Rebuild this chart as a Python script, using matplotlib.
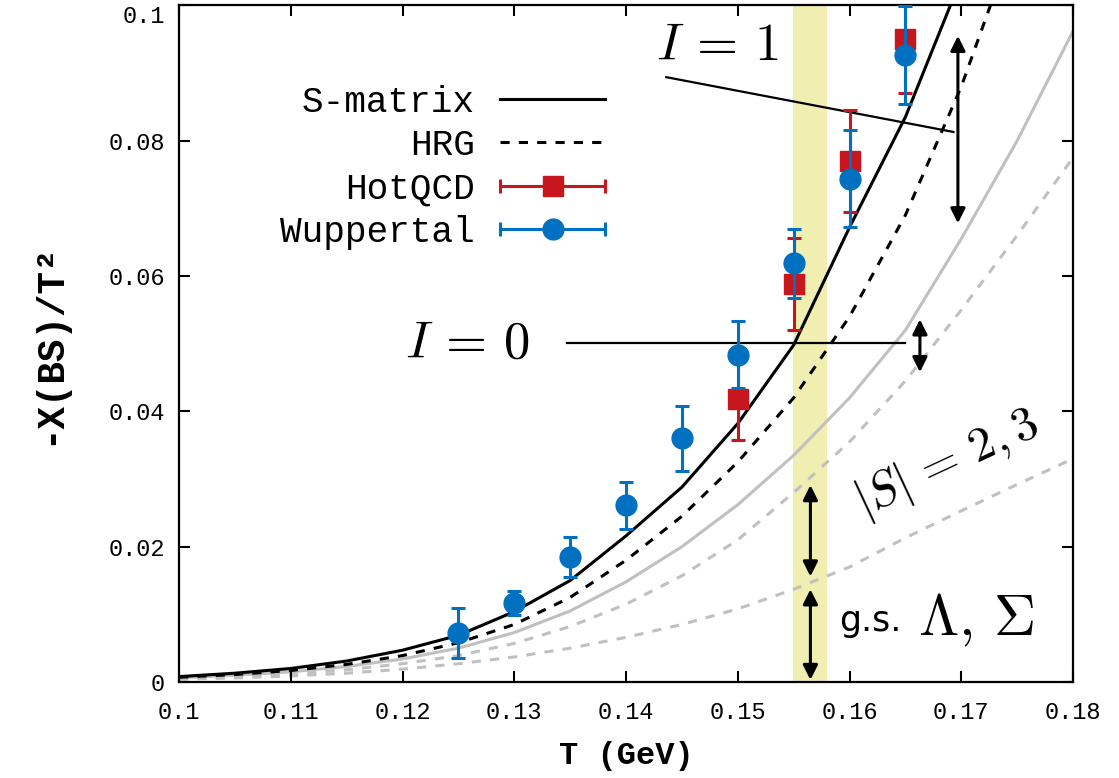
import numpy as np
import matplotlib.pyplot as plt
from matplotlib.lines import Line2D
from matplotlib.legend_handler import HandlerErrorbar

plt.rcParams['mathtext.fontset'] = 'cm'

# --- data ---
T_grid = [0.100, 0.105, 0.110, 0.115, 0.120, 0.125, 0.130, 0.135, 0.140,
          0.145, 0.150, 0.155, 0.160, 0.165, 0.170, 0.175, 0.180]
smatrix = [0.0008, 0.0013, 0.0020, 0.0031, 0.0047, 0.0069, 0.0104, 0.0150, 0.0216,
           0.0288, 0.0382, 0.0498, 0.0672, 0.0835, 0.1040, 0.1300, 0.1600]
hrg = [0.0007, 0.0011, 0.0017, 0.0026, 0.0039, 0.0058, 0.0085, 0.0125, 0.0180,
       0.0245, 0.0325, 0.0420, 0.0540, 0.0690, 0.0880, 0.1110, 0.1400]
grey_solid = [0.0006, 0.0010, 0.0015, 0.0023, 0.0034, 0.0050, 0.0073, 0.0105, 0.0148,
              0.0200, 0.0262, 0.0335, 0.0420, 0.0520, 0.0655, 0.0800, 0.0962]
grey_dash_hi = [0.0005, 0.0008, 0.0012, 0.0018, 0.0027, 0.0039, 0.0057, 0.0082, 0.0115,
                0.0157, 0.0210, 0.0280, 0.0355, 0.0445, 0.0550, 0.0660, 0.0775]
grey_dash_lo = [0.0004, 0.0006, 0.0009, 0.0013, 0.0019, 0.0027, 0.0037, 0.0050, 0.0066,
                0.0085, 0.0108, 0.0137, 0.0170, 0.0213, 0.0253, 0.0292, 0.0330]

T_wup = [0.125, 0.130, 0.135, 0.140, 0.145, 0.150, 0.155, 0.160, 0.165]
wup = [0.0072, 0.0117, 0.0185, 0.0261, 0.0360, 0.0484, 0.0619, 0.0744, 0.0927]
wup_err = [0.0037, 0.0018, 0.0030, 0.0035, 0.0048, 0.0049, 0.0051, 0.0072, 0.0072]

T_hot = [0.150, 0.155, 0.160, 0.165]
hot = [0.0418, 0.0588, 0.0770, 0.0950]
hot_err = [0.0060, 0.0068, 0.0075, 0.0080]

band = (0.1549, 0.1580)

xticks = [0.10, 0.11, 0.12, 0.13, 0.14, 0.15, 0.16, 0.17, 0.18]
xlabels = ['0.1', '0.11', '0.12', '0.13', '0.14', '0.15', '0.16', '0.17', '0.18']
yticks = [0, 0.02, 0.04, 0.06, 0.08, 0.1]
ylabels = ['0', '0.02', '0.04', '0.06', '0.08', '0.1']

red = '#C8161E'
blue = '#0070C0'
grey = '#C0C0C0'
mono = 'Liberation Mono'

fig = plt.figure(figsize=(11.19, 7.78), dpi=100)
ax = fig.add_axes([0.16, 0.1234, 0.7989, 0.8696])

ax.axvspan(band[0], band[1], color='#F0EEB0', lw=0, zorder=0)

ax.plot(T_grid, grey_dash_lo, color=grey, lw=2.2, dashes=(3, 3), zorder=1)
ax.plot(T_grid, grey_dash_hi, color=grey, lw=2.2, dashes=(3, 3), zorder=1)
ax.plot(T_grid, grey_solid, color=grey, lw=2.2, zorder=1)
ax.plot(T_grid, hrg, color='k', lw=2.2, dashes=(3, 3), zorder=2)
ax.plot(T_grid, smatrix, color='k', lw=2.2, zorder=2)

ax.errorbar(T_hot, hot, yerr=hot_err, fmt='s', color=red, ms=14, elinewidth=2.2,
            capsize=5, capthick=2.2, zorder=3)
ax.errorbar(T_wup, wup, yerr=wup_err, fmt='o', color=blue, ms=15, elinewidth=2.2,
            capsize=5, capthick=2.2, zorder=4)

# annotation lines and arrows
ax.plot([0.1436, 0.1693], [0.0894, 0.0813], color='k', lw=1.6, zorder=2)
ax.plot([0.1347, 0.1650], [0.0501, 0.0501], color='k', lw=1.6, zorder=2)

def darrow(x, y0, y1):
    ax.annotate('', xy=(x, y0), xytext=(x, y1),
                arrowprops=dict(arrowstyle='<|-|>', color='k', lw=2.2,
                                mutation_scale=22, shrinkA=0, shrinkB=0), zorder=5)

darrow(0.1697, 0.0955, 0.0678)
darrow(0.1663, 0.0536, 0.0458)
darrow(0.1565, 0.0291, 0.0156)
darrow(0.1565, 0.0137, 0.0003)

ax.text(0.14815, 0.0942, r'$I\,=\,1$', fontsize=38, ha='center', va='center')
ax.text(0.12577, 0.0501, r'$I\,=\,0$', fontsize=38, ha='center', va='center')
ax.text(0.1687, 0.0323, r'$|S|\,=\,2,3$', fontsize=35, ha='center', va='center',
        rotation=25, rotation_mode='anchor')
ax.text(0.1591, 0.0090, 'g.s.', fontfamily='DejaVu Sans', fontsize=25,
        ha='left', va='center')
ax.text(0.1661, 0.0093, r'$\Lambda,\,\Sigma$', fontsize=42, ha='left', va='center')

ax.set_xlim(0.1, 0.18)
ax.set_ylim(0, 0.1)
ax.set_xticks(xticks)
ax.set_xticklabels(xlabels, fontfamily=mono, fontsize=17)
ax.set_yticks(yticks)
ax.set_yticklabels(ylabels, fontfamily=mono, fontsize=17)
ax.get_yticklabels()[-1].set_va('top')
ax.tick_params(direction='in', top=True, right=True, length=8, width=1.5)
ax.tick_params(axis='x', pad=14)
ax.tick_params(axis='y', pad=10)
for s in ax.spines.values():
    s.set_linewidth(1.6)

ax.set_xlabel('T (GeV)', fontfamily=mono, fontweight='bold', fontsize=23, labelpad=12)
ax.set_ylabel('-X(BS)/T²', fontfamily=mono, fontweight='bold',
              fontsize=27, labelpad=30)

# legend
h_s = Line2D([], [], color='k', lw=2.2)
h_h = Line2D([], [], color='k', lw=2.2, dashes=(3, 3))
h_q = ax.errorbar([np.nan], [np.nan], xerr=[1.0], fmt='s', color=red, ms=14,
                  elinewidth=2.2, capsize=5, capthick=2.2)
h_w = ax.errorbar([np.nan], [np.nan], xerr=[1.0], fmt='o', color=blue, ms=15,
                  elinewidth=2.2, capsize=5, capthick=2.2)
eb = HandlerErrorbar(xerr_size=1.45)
ax.legend([h_s, h_h, h_q, h_w], ['S-matrix', 'HRG', 'HotQCD', 'Wuppertal'],
          handler_map={h_q: eb, h_w: eb},
          loc='upper right', bbox_to_anchor=(0.4765, 0.883), frameon=False,
          markerfirst=False, prop={'family': mono, 'size': 26},
          handlelength=2.9, handletextpad=0.7, labelspacing=0.23,
          borderpad=0, borderaxespad=0, numpoints=1)

fig.savefig('out.png', dpi=100)
